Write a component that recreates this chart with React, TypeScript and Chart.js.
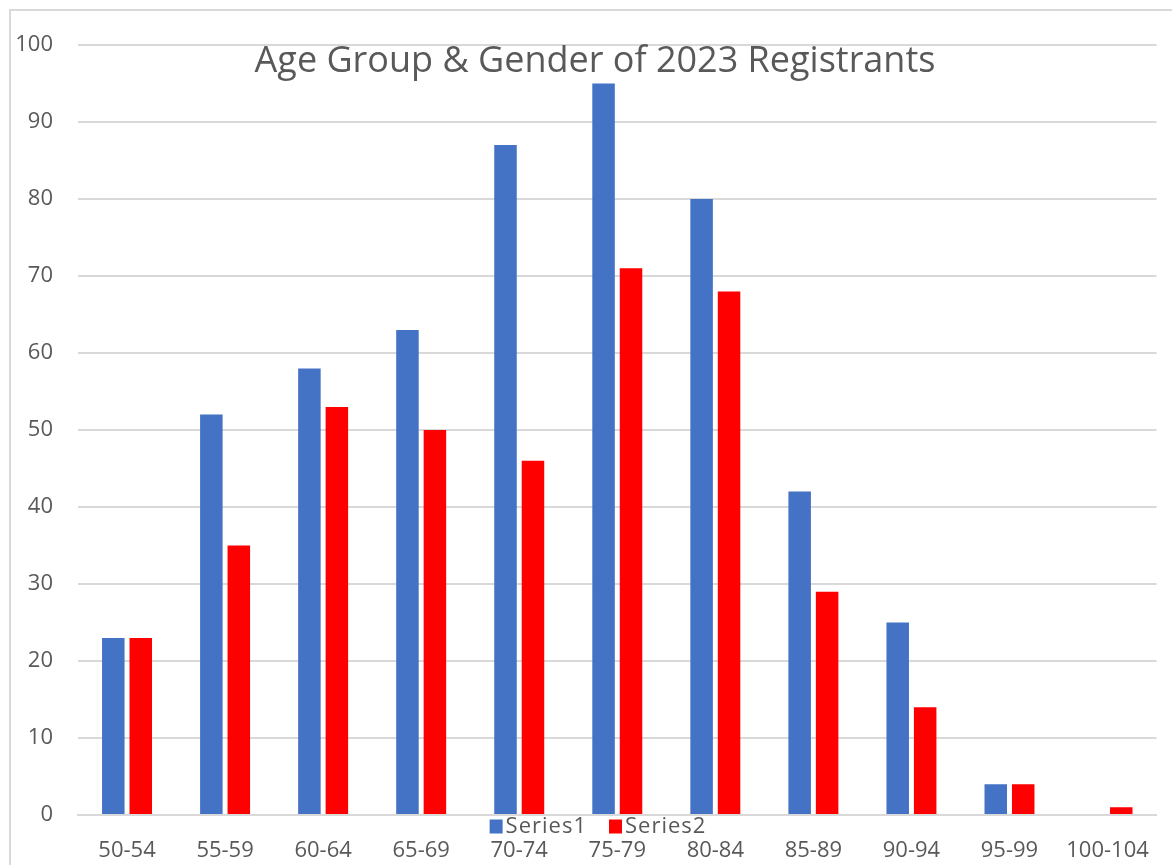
import React, { useEffect, useRef } from "react";
import { Chart, registerables } from "chart.js";

Chart.register(...registerables);

const categories = ["50-54", "55-59", "60-64", "65-69", "70-74", "75-79", "80-84", "85-89", "90-94", "95-99", "100-104"];
const series1 = [23, 52, 58, 63, 87, 95, 80, 42, 25, 4, 0];
const series2 = [23, 35, 53, 50, 46, 71, 68, 29, 14, 4, 1];
const seriesNames = ["Series1", "Series2"];
const titleText = "Age Group & Gender of 2023 Registrants";

const FONT = "'Open Sans', sans-serif";
const TEXT = "#595959";

const overlayPlugin = {
  id: "overlay",
  afterDraw(chart: any) {
    const ctx = chart.ctx;
    ctx.save();
    // title
    ctx.fillStyle = TEXT;
    ctx.font = `36px ${FONT}`;
    ctx.textAlign = "center";
    ctx.textBaseline = "alphabetic";
    ctx.fillText(titleText, 595, 72);
    // legend
    ctx.font = `22px ${FONT}`;
    try { (ctx as any).letterSpacing = "1px"; } catch (e) {}
    ctx.textBaseline = "middle";
    ctx.textAlign = "left";
    const ds = chart.data.datasets;
    const box = 13;
    const gap = 3;
    const itemGap = 22;
    const widths = ds.map((d: any) => box + gap + ctx.measureText(d.label).width);
    const total = widths.reduce((a: number, b: number) => a + b, 0) + itemGap * (ds.length - 1);
    let x = 598 - total / 2;
    const y = 826;
    ds.forEach((d: any, i: number) => {
      ctx.fillStyle = d.backgroundColor;
      ctx.fillRect(x, y - box / 2, box, box + 1);
      ctx.fillStyle = TEXT;
      ctx.fillText(d.label, x + box + gap, y + 1);
      x += widths[i] + itemGap;
    });
    ctx.restore();
  },
};

export default function App() {
  const ref = useRef<HTMLCanvasElement>(null);
  useEffect(() => {
    if (!ref.current) return;
    const chart = new Chart(ref.current, {
      type: "bar",
      data: {
        labels: categories,
        datasets: [
          { label: seriesNames[0], data: series1, backgroundColor: "#4472C4", barPercentage: 0.82, categoryPercentage: 0.56 },
          { label: seriesNames[1], data: series2, backgroundColor: "#FF0000", barPercentage: 0.82, categoryPercentage: 0.56 },
        ],
      },
      options: {
        animation: false,
        responsive: false,
        maintainAspectRatio: false,
        layout: { padding: { left: 0, right: 4, top: 45, bottom: 0 } },
        plugins: {
          legend: { display: false },
          title: { display: false },
          tooltip: { enabled: false },
        },
        scales: {
          x: {
            grid: { display: false, drawTicks: false },
            border: { display: true, color: "#d9d9d9", width: 2 },
            ticks: { color: TEXT, font: { family: FONT, size: 22 }, padding: 23, maxRotation: 0, autoSkip: false },
            afterFit: (s: any) => { s.height = 50; },
          },
          y: {
            min: 0,
            max: 100,
            ticks: { stepSize: 10, color: TEXT, font: { family: FONT, size: 22 }, padding: 25 },
            grid: { color: "#d9d9d9", lineWidth: 2, drawTicks: false },
            border: { display: false },
            afterFit: (s: any) => { s.width = 78; },
          },
        },
      },
      plugins: [overlayPlugin],
    });
    return () => chart.destroy();
  }, []);

  return (
    <div style={{ position: "fixed", left: 0, top: 0, width: 1172, height: 865, overflow: "hidden", background: "#fff" }}>
      <canvas ref={ref} width={1172} height={865} style={{ position: "absolute", left: 0, top: 0, width: 1172, height: 865 }} />
      <div style={{ position: "absolute", left: 9, top: 9, width: 1250, height: 950, border: "2px solid #d9d9d9", pointerEvents: "none" }} />
    </div>
  );
}
